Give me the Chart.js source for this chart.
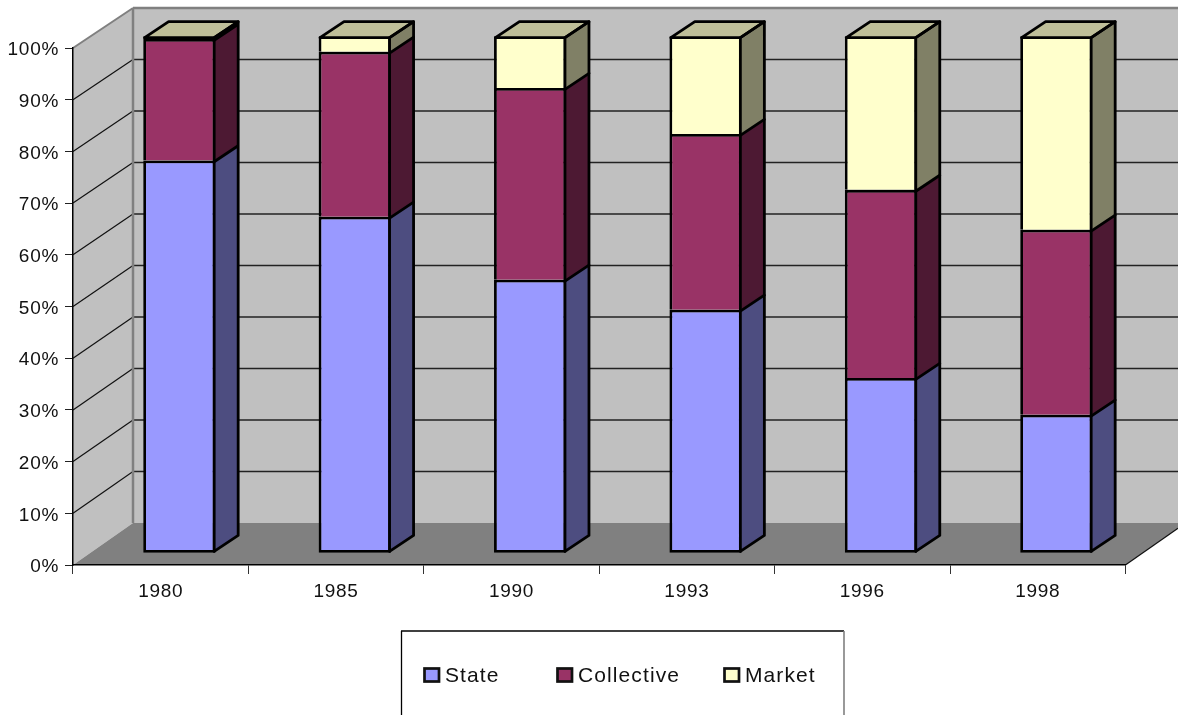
<!DOCTYPE html>
<html>
<head>
<meta charset="utf-8">
<style>html,body{margin:0;padding:0;background:#fff}canvas{display:block}</style>
<script src="https://cdn.jsdelivr.net/npm/chart.js@4"></script>
</head>
<body>
<canvas id="c" width="1178" height="715"></canvas>
<script>
const categories = ['1980', '1985', '1990', '1993', '1996', '1998'];
const stateValues = [76.0, 65.1, 52.9, 47.1, 33.9, 26.8];
const collectiveValues = [23.5, 31.9, 37.1, 34.0, 36.4, 35.8];
const marketValues = [0.5, 3.0, 10.0, 18.9, 29.7, 37.4];

const FONT = '"Liberation Sans", Arial, sans-serif';
const WALL = {dx: 60, dy: -40, floorDy: -42};
const BAR_SHIFT = {dx: 18.7, dy: -11.7};
const BAR_DEPTH = {dx: 24, dy: -16};
const LW = 2.8;
const sideColors = ['#4D4D80', '#4D1933', '#808066'];
const topColor = '#BFBF99';
const legendSlots = [{box: 423.5, text: 445}, {box: 556.5, text: 578}, {box: 723.5, text: 745}];

function poly(ctx, pts, fill, stroke, lw) {
  ctx.beginPath();
  pts.forEach((p, i) => i ? ctx.lineTo(p[0], p[1]) : ctx.moveTo(p[0], p[1]));
  ctx.closePath();
  if (fill) { ctx.fillStyle = fill; ctx.fill(); }
  if (stroke) { ctx.strokeStyle = stroke; ctx.lineWidth = lw; ctx.lineJoin = 'round'; ctx.stroke(); }
}
function line(ctx, x1, y1, x2, y2, color, lw) {
  ctx.beginPath(); ctx.moveTo(x1, y1); ctx.lineTo(x2, y2);
  ctx.strokeStyle = color; ctx.lineWidth = lw; ctx.stroke();
}

const scene = {
  id: 'scene',
  beforeDraw(chart) {
    const {ctx, chartArea: a, scales: {y}, width} = chart;
    ctx.save();
    const wl = a.left + WALL.dx, wt = a.top + WALL.dy, wb = a.bottom + WALL.floorDy;
    ctx.fillStyle = '#C0C0C0';
    ctx.fillRect(wl, wt, width - wl, wb - wt);
    poly(ctx, [[a.left, a.top], [wl, wt], [wl, wb], [a.left, a.bottom]], '#C0C0C0');
    const yEdge = a.bottom + (width - a.right) * (WALL.floorDy / WALL.dx);
    poly(ctx, [[a.left, a.bottom], [wl, wb], [width, wb], [width, yEdge], [a.right, a.bottom]], '#808080');
    y.ticks.forEach(t => {
      if (t.value === 0 || t.value === 100) return;
      const p = y.getPixelForValue(t.value);
      const back = p + WALL.dy + (WALL.floorDy - WALL.dy) * (1 - t.value / 100);
      line(ctx, a.left, p, wl, back, '#111', 1.2);
      line(ctx, wl, back, width, back, '#222', 1.4);
    });
    line(ctx, a.left, a.top, wl, wt, '#808080', 2);
    line(ctx, wl, wt, wl, wb, '#808080', 2.5);
    line(ctx, wl, wt, width, wt, '#808080', 2.5);
    line(ctx, a.right, a.bottom, width, yEdge, '#111', 1.2);
    ctx.restore();
    ctx.letterSpacing = '0.7px';
  },
  beforeDatasetsDraw(chart) {
    chart.ctx.save();
    chart.ctx.translate(BAR_SHIFT.dx, BAR_SHIFT.dy);
  },
  afterDatasetsDraw(chart) {
    const {ctx} = chart;
    const metas = chart.data.datasets.map((d, i) => chart.getDatasetMeta(i));
    categories.forEach((c, i) => {
      const {dx, dy} = BAR_DEPTH;
      let right, lowBase, highTop, left;
      const seams = [];
      metas.forEach((m, k) => {
        const el = m.data[i];
        right = el.x + el.width / 2 - LW / 2;
        left = el.x - el.width / 2 + LW / 2;
        const top = el.y + LW / 2;
        const base = k === 0 ? el.base - LW / 2 : el.base + LW / 2;
        if (k === 0) lowBase = base; else seams.push(base);
        highTop = top;
        poly(ctx, [[right, top], [right + dx, top + dy], [right + dx, base + dy], [right, base]], sideColors[k]);
      });
      seams.forEach(s => line(ctx, right, s, right + dx, s + dy, '#000', LW));
      poly(ctx, [[left, highTop], [left + dx, highTop + dy], [right + dx, highTop + dy], [right, highTop]], topColor, '#000', LW);
      ctx.lineCap = 'round';
      ctx.beginPath();
      ctx.moveTo(right, highTop);
      ctx.lineTo(right + dx, highTop + dy);
      ctx.lineTo(right + dx, lowBase + dy);
      ctx.lineTo(right, lowBase);
      ctx.lineTo(right, highTop);
      ctx.strokeStyle = '#000'; ctx.lineWidth = LW; ctx.stroke();
    });
    ctx.restore();
    drawLegend(chart);
  }
};

function drawLegend(chart) {
  const {ctx} = chart;
  ctx.save();
  ctx.fillStyle = '#fff';
  ctx.fillRect(401, 631, 443, 90);
  line(ctx, 401, 631, 844, 631, '#000', 1.3);
  line(ctx, 401.5, 631, 401.5, 715, '#000', 1.3);
  line(ctx, 844, 631, 844, 715, '#808080', 1.6);
  ctx.font = '21px ' + FONT;
  ctx.letterSpacing = '1.1px';
  ctx.textBaseline = 'middle';
  ctx.textAlign = 'left';
  chart.data.datasets.forEach((d, i) => {
    const s = legendSlots[i];
    ctx.fillStyle = d.backgroundColor;
    ctx.fillRect(s.box + 1, 668.5, 14.5, 13);
    ctx.strokeStyle = '#111'; ctx.lineWidth = 2.7;
    ctx.strokeRect(s.box + 1, 668.5, 14.5, 13);
    ctx.fillStyle = '#111';
    ctx.fillText(d.label, s.text, 676);
  });
  ctx.restore();
}

function series(label, data, color, skipped) {
  return {label, data, backgroundColor: color, borderColor: '#000', borderWidth: LW,
          borderSkipped: skipped, barPercentage: 0.4125, categoryPercentage: 1, clip: false};
}

new Chart(document.getElementById('c'), {
  type: 'bar',
  plugins: [scene],
  data: {
    labels: categories,
    datasets: [
      series('State', stateValues, '#9999FF', false),
      series('Collective', collectiveValues, '#993366', 'bottom'),
      series('Market', marketValues, '#FFFFCC', 'bottom')
    ]
  },
  options: {
    responsive: false,
    animation: false,
    layout: {padding: {top: 48, right: 52.6, left: 0, bottom: 0}},
    plugins: {legend: {display: false}, tooltip: {enabled: false}, title: {display: false}},
    scales: {
      x: {
        stacked: true,
        afterFit(s) { s.height = 150; },
        grid: {drawOnChartArea: false, drawTicks: true, tickLength: 9, color: '#333', lineWidth: 1},
        border: {display: true, color: '#000', width: 1.5},
        ticks: {color: '#111', font: {family: FONT, size: 19}, padding: 6, maxRotation: 0}
      },
      y: {
        stacked: true, min: 0, max: 100,
        afterFit(s) { s.width = 73; },
        grid: {drawOnChartArea: false, drawTicks: true, tickLength: 8, color: '#222', lineWidth: 1},
        border: {display: true, color: '#000', width: 1.5},
        ticks: {stepSize: 10, color: '#111', font: {family: FONT, size: 19}, padding: 6, labelOffset: 2,
                callback: v => v + '%'}
      }
    }
  }
});
</script>
</body>
</html>
